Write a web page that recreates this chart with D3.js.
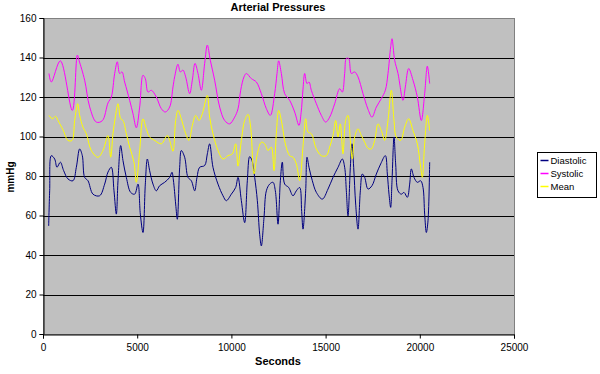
<!DOCTYPE html>
<html>
<head>
<meta charset="utf-8">
<script src="https://cdn.jsdelivr.net/npm/d3@7"></script>
<style>
  body { margin: 0; background: #fff; }
  text { font-family: "Liberation Sans", Arial, sans-serif; }
</style>
</head>
<body>
<script>
// Arterial pressures (seconds, mmHg)
const diaT = [301, 354, 442, 619, 743, 920, 1097, 1327, 1592, 1769, 1946, 2087, 2211, 2388, 2654, 3007, 3273, 3450,
  3627, 3768, 3892, 3981, 4122, 4246, 4423, 4653, 4865, 5042, 5166, 5307, 5431, 5537, 5661, 5838, 6015, 6192, 6457, 6723, 6846, 6920,
  7042, 7130, 7254, 7342, 7519, 7696, 7873, 8050, 8174, 8315, 8581, 8722, 8846, 9023, 9288, 9554, 9730, 9996, 10226, 10351,
  10528, 10705, 10846, 10970, 11094, 11236, 11377, 11501, 11589, 11731, 11855, 12031, 12208, 12332, 12474, 12598, 12704, 12828, 13040, 13270, 13447, 13624, 13730,
  13801, 13943, 14013, 14119, 14296, 14509, 14827, 15128, 15393, 15659, 15888, 16012, 16101, 16189, 16313, 16401, 16490, 16596, 16720, 16844, 16950, 17074, 17251,
  17463, 17693, 17923, 18171, 18277, 18366, 18454, 18525, 18631, 18719, 18843, 19020, 19162, 19338, 19462, 19551, 19692, 19869, 20046, 20170, 20258, 20347, 20435, 20524];
const diaV = [54.7, 72.5, 90.3, 88.6, 84.4, 87, 82.7, 78.5, 77.6, 84.4, 93.7, 90.3, 79.3, 77.6, 70.8, 70, 75.9, 82,
  84.4, 72.5, 60.7, 77.6, 95.4, 87.8, 79.3, 71.7, 70.8, 75.9, 60.7, 51.4, 75.9, 88.6, 82.7, 75.9, 72.5, 75.1, 76.8, 79.3, 81.9, 78,
  65.8, 58.1, 84.4, 92.9, 89.5, 79.3, 77.6, 72.5, 79.3, 84.4, 85.3, 91.2, 96.3, 84.4, 75.9, 70, 67.5, 70.8, 74.2, 79.3,
  67.5, 56.4, 77.6, 89.8, 87.8, 79.3, 67.5, 50.5, 44.6, 59, 72.5, 75.9, 76.8, 72.5, 55.6, 77.6, 87, 75.9, 74.2, 70, 72.5, 74.2, 62,
  53.1, 72.5, 89.5, 84.4, 77.6, 71.7, 68.3, 73.4, 79.3, 84.4, 88.6, 84.4, 72.5, 59.8, 84.4, 96.3, 84.4, 65.8, 53.1, 72.5, 81, 79.3, 73.4,
  75.1, 81, 86.1, 90.3, 81, 70.8, 64.1, 77.6, 99.7, 86.1, 72.5, 70.8, 71.7, 69.2, 75.9, 83.6, 79.3, 76.8, 77.6, 74.2, 60.7, 51.4, 57.3, 87];

const sysT = [318, 442, 920, 1557, 1822, 1911, 2211, 2477, 2830, 3149, 3450,
  3627, 3804, 3945, 4069, 4193, 4335, 4600, 4777, 4954, 5131, 5307, 5431, 5573, 5750, 6015, 6280, 6493, 6723, 6900,
  6988, 7165, 7289, 7431, 7572, 7785, 7926, 8068, 8227, 8404, 8581, 8722, 8881, 9111, 9377, 9642, 9907, 10173, 10351,
  10493, 10669, 10793, 11059, 11324, 11589, 11855, 12067, 12297, 12421, 12509, 12651, 12828, 13093, 13358, 13588, 13700,
  13801, 13889, 14013, 14119, 14243, 14509, 14774, 15004, 15216, 15482, 15747, 15888, 16012, 16101, 16225, 16366, 16543, 16720, 16985, 17251,
  17463, 17693, 17959, 18171, 18312, 18454, 18525, 18666, 18843, 19108, 19232, 19409, 19639, 19869, 20081, 20258, 20400, 20524];
const sysV = [131.9, 127.6, 138.3, 113.2, 141.2, 138.6, 128.5, 115, 107.3, 108, 117,
  120, 131.9, 137.8, 131.9, 132.7, 127.6, 118.3, 111.5, 104.4, 114.9, 131, 129.3, 122.5, 123.4, 120, 114.1, 112.4, 114.9, 125.1,
  130.2, 136.6, 132.7, 133.6, 130.2, 121.7, 128.5, 137, 131.9, 123.4, 137, 146.3, 138.6, 128.5, 114.9, 108.1, 106.4, 109.8, 114,
  123.4, 130.2, 131.9, 129.3, 127.6, 121.7, 114.1, 110.7, 121.7, 131.9, 138.3, 131.9, 121.7, 118.3, 112.4, 105.6, 112,
  124, 131.9, 126.8, 127.6, 123.4, 116.6, 110.7, 107.3, 109.8, 116.6, 124.2, 122.5, 131.9, 139.5, 139.5, 131.9, 132.7, 130.2, 121.7, 113.8,
  109.8, 114.9, 119.2, 123.4, 131.9, 145.4, 149.5, 138.6, 131.9, 118.3, 125.1, 134.4, 128.5, 120, 108.1, 121.7, 135.6, 126.8];

const meanT = [318, 495, 672, 796, 1061, 1327, 1539, 1681, 1840, 1946, 2123, 2300, 2565, 2919, 3184, 3450,
  3592, 3715, 3839, 3981, 4122, 4246, 4423, 4600, 4830, 4954, 5131, 5307, 5484, 5661, 5927, 6280, 6599, 6723, 6900,
  7042, 7165, 7342, 7519, 7749, 7926, 8103, 8280, 8457, 8722, 8846, 9023, 9288, 9554, 9819, 10049, 10226, 10351,
  10528, 10705, 10882, 11023, 11200, 11377, 11589, 11766, 11943, 12120, 12262, 12385, 12509, 12686, 12863, 13093, 13270, 13447, 13624, 13801,
  13943, 14066, 14243, 14509, 14774, 15039, 15216, 15393, 15535, 15659, 15782, 15924, 16065, 16189, 16313, 16419, 16543, 16720, 16897, 17074, 17251,
  17428, 17605, 17782, 17959, 18136, 18312, 18489, 18631, 18755, 18985, 19197, 19409, 19639, 19869, 20046, 20134, 20258, 20400, 20524];
const meanV = [110.7, 109, 110.2, 108.1, 103.4, 98, 98, 108, 116.6, 110.7, 104.7, 101.4, 92.9, 89.5, 92.9, 100.5,
  89.5, 101.4, 109.8, 116.6, 109, 108.1, 101.4, 94.6, 87, 76.8, 92.9, 109, 103.9, 99.7, 98, 96.3, 100.5, 98, 92.5,
  108.1, 113.2, 109, 103, 98, 105.6, 110.7, 108.1, 111.5, 120.8, 109.8, 101.4, 92.9, 88.6, 90.3, 91.2, 96.3, 85,
  98, 108.1, 111.2, 104.7, 81, 91.2, 97.1, 96.3, 92.9, 94.6, 82.7, 101.4, 113.2, 106.4, 96.3, 90.3, 89.5, 86.1, 77.6, 95,
  109, 102.2, 101.4, 93.7, 90.3, 90.3, 94.6, 100.5, 108.1, 99.7, 106.4, 91.2, 108.1, 110.7, 98, 88.6, 99.7, 103.9, 100.5, 97.1, 94,
  93.7, 98, 106.4, 103, 98, 108.1, 123.4, 108.1, 99.7, 98, 104.7, 109, 103, 96.3, 84.4, 79.3, 96.3, 110.7, 103];

const seriesNames = ["Diastolic", "Systolic", "Mean"];
const seriesColors = ["#000080", "#ff00ff", "#ffff00"];
const xTicks = [0, 5000, 10000, 15000, 20000, 25000];
const yTicks = [0, 20, 40, 60, 80, 100, 120, 140, 160];

const width = 600, height = 374;
const plot = { left: 43, right: 514, top: 18, bottom: 334 };

const svg = d3.select("body").append("svg")
    .attr("width", width)
    .attr("height", height);

const x = d3.scaleLinear().domain([0, 25000]).range([plot.left, plot.right]);
const y = d3.scaleLinear().domain([0, 160]).range([plot.bottom, plot.top]);

// gray plot area
svg.append("rect")
    .attr("x", plot.left + 0.5)
    .attr("y", plot.top + 0.5)
    .attr("width", plot.right - plot.left)
    .attr("height", plot.bottom - plot.top)
    .attr("fill", "#c0c0c0")
    .attr("stroke", "#808080")
    .attr("stroke-width", 1);

// horizontal gridlines
svg.append("g")
    .selectAll("line")
    .data(yTicks.filter(d => d > 0 && d < 160))
    .enter().append("line")
    .attr("x1", plot.left)
    .attr("x2", plot.right)
    .attr("y1", d => Math.round(y(d)) + 0.5)
    .attr("y2", d => Math.round(y(d)) + 0.5)
    .attr("stroke", "#000")
    .attr("stroke-width", 1);

// axes
const xAxis = svg.append("g")
    .attr("transform", "translate(0," + (Math.round(plot.bottom) + 0.5) + ")")
    .call(d3.axisBottom(x).tickValues(xTicks).tickSize(4).tickFormat(d3.format("d")));
const yAxis = svg.append("g")
    .attr("transform", "translate(" + (plot.left + 0.5) + ",0)")
    .call(d3.axisLeft(y).tickValues(yTicks).tickSize(4));

[xAxis, yAxis].forEach(function(a) {
    a.select(".domain").attr("stroke", "#000");
    a.selectAll(".tick line").attr("stroke", "#000");
    a.selectAll(".tick text")
        .attr("fill", "#000")
        .style("font-size", "10px")
        .style("font-family", "'Liberation Sans', Arial, sans-serif");
});
xAxis.selectAll(".tick text").attr("dy", "0.9em");

// lines
const line = d3.line()
    .x(d => x(d[0]))
    .y(d => y(d[1]))
    .curve(d3.curveCatmullRom.alpha(0.5));

const allSeries = [
    d3.zip(diaT, diaV),
    d3.zip(sysT, sysV),
    d3.zip(meanT, meanV)
];

svg.append("g")
    .selectAll("path")
    .data(allSeries)
    .enter().append("path")
    .attr("d", line)
    .attr("fill", "none")
    .attr("stroke", (d, i) => seriesColors[i])
    .attr("stroke-width", 1);

// titles
svg.append("text")
    .attr("x", 278)
    .attr("y", 11)
    .attr("text-anchor", "middle")
    .attr("font-size", "11px")
    .attr("font-weight", "bold")
    .text("Arterial Pressures");

svg.append("text")
    .attr("x", 278)
    .attr("y", 365)
    .attr("text-anchor", "middle")
    .attr("font-size", "11px")
    .attr("font-weight", "bold")
    .text("Seconds");

svg.append("text")
    .attr("transform", "translate(14,177) rotate(-90)")
    .attr("text-anchor", "middle")
    .attr("font-size", "10px")
    .attr("font-weight", "bold")
    .text("mmHg");

// legend
const legend = svg.append("g").attr("transform", "translate(537.5,152.5)");
legend.append("rect")
    .attr("width", 59)
    .attr("height", 45)
    .attr("fill", "#fff")
    .attr("stroke", "#000");

const item = legend.selectAll(".item")
    .data(seriesNames)
    .enter().append("g")
    .attr("class", "item")
    .attr("transform", (d, i) => "translate(0," + (8 + i * 13) + ")");
item.append("line")
    .attr("x1", 3)
    .attr("x2", 11)
    .attr("stroke", (d, i) => seriesColors[i])
    .attr("stroke-width", 1.5);
item.append("text")
    .attr("x", 13)
    .attr("dy", "0.35em")
    .attr("font-size", "9.5px")
    .text(d => d);
</script>
</body>
</html>
